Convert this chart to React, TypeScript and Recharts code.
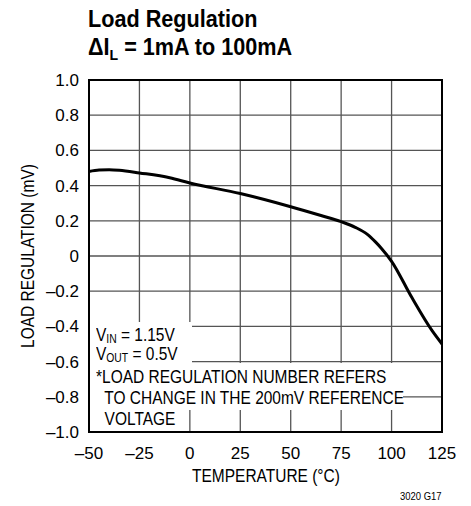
import React from 'react';
import { LineChart, Line, XAxis, YAxis, CartesianGrid, ReferenceArea } from 'recharts';

// temperature (°C) vs load regulation (mV)
const temps = [-50, -45, -40, -35, -25, -10, 0, 25, 50, 65, 75, 82, 88, 92, 95, 100, 110, 120, 125];
const loadReg = [0.48, 0.488, 0.49, 0.487, 0.472, 0.445, 0.415, 0.355, 0.28, 0.23, 0.195, 0.163, 0.123, 0.08, 0.043, -0.03, -0.235, -0.423, -0.5];

const xTicks = [-50, -25, 0, 25, 50, 75, 100, 125];
const yTicks = [-1, -0.8, -0.6, -0.4, -0.2, 0, 0.2, 0.4, 0.6, 0.8, 1];

const data = temps.map((t, i) => ({ t, v: loadReg[i] }));

const FONT = '"Liberation Sans", Arial, sans-serif';
// no condensed face installed, so squeeze the regular one
const narrow: React.CSSProperties = { transform: 'scaleX(0.86)', transformOrigin: 'left top', whiteSpace: 'pre' };

const fmtY = (v: number) => {
  if (v === 0) return '0';
  const s = Math.abs(v).toFixed(1);
  return v < 0 ? '\u2013' + s : s;
};
const fmtX = (v: number) => (v < 0 ? '\u2013' + Math.abs(v) : String(v));

const sub: React.CSSProperties = { fontSize: 12, position: 'relative', top: 2, lineHeight: '12px' };

const noteLines: React.ReactNode[] = [
  <>V<span style={sub}>IN</span> = 1.15V</>,
  <>V<span style={sub}>OUT</span> = 0.5V</>,
  '*LOAD REGULATION NUMBER REFERS',
  '  TO CHANGE IN THE 200mV REFERENCE',
  '  VOLTAGE',
];
const noteTops = [325, 344, 367, 388, 409];

const App: React.FC = () => {
  return (
    <div style={{ position: 'absolute', left: 0, top: 0, width: 471, height: 506, background: '#fff', fontFamily: FONT, color: '#000' }}>
      <div style={{ position: 'absolute', left: 88, top: 5, fontSize: 23, fontWeight: 'bold', lineHeight: '28px', whiteSpace: 'nowrap', transform: 'scaleX(0.94)', transformOrigin: 'left top' }}>
        Load Regulation
        <br />
        {'\u0394'}I<span style={{ fontSize: 15, position: 'relative', top: 5 }}>L</span> = 1mA to 100mA
      </div>

      <LineChart width={471} height={506} data={data} margin={{ top: 80, right: 29, bottom: 44, left: 0 }}>
        <CartesianGrid stroke="#555" strokeWidth={1.3} horizontalValues={yTicks} verticalValues={xTicks} />
        <XAxis
          type="number"
          dataKey="t"
          domain={[-50, 125]}
          ticks={xTicks}
          tickFormatter={fmtX}
          axisLine={false}
          tickLine={false}
          tickMargin={9}
          height={30}
          tick={{ fill: '#000', fontSize: 17, fontFamily: FONT }}
        />
        <YAxis
          type="number"
          domain={[-1, 1]}
          ticks={yTicks}
          tickFormatter={fmtY}
          axisLine={false}
          tickLine={false}
          tickMargin={4}
          width={89}
          tick={{ fill: '#000', fontSize: 17, fontFamily: FONT }}
        />
        <ReferenceArea x1={-50} x2={125} y1={-1} y2={1} fill="none" stroke="#000" strokeWidth={2} />
        <Line type="monotone" dataKey="v" stroke="#000" strokeWidth={3} dot={false} isAnimationActive={false} />
      </LineChart>

      {/* annotation block, white boxes hide the grid behind the text */}
      <div style={{ position: 'absolute', left: 90, top: 322, width: 102, height: 41, background: '#fff' }} />
      <div style={{ position: 'absolute', left: 90, top: 363, width: 313, height: 47, background: '#fff' }} />
      <div style={{ position: 'absolute', left: 90, top: 410, width: 95, height: 21, background: '#fff' }} />
      {noteLines.map((line, i) => (
        <div key={i} style={{ position: 'absolute', left: 96, top: noteTops[i], fontSize: 18, lineHeight: '20px', ...narrow }}>
          {line}
        </div>
      ))}

      <div
        style={{
          position: 'absolute',
          left: 28,
          top: 256,
          transform: 'translate(-50%, -50%) rotate(-90deg) scaleX(0.86)',
          fontSize: 18,
          whiteSpace: 'nowrap',
        }}
      >
        LOAD REGULATION (mV)
      </div>
      <div style={{ position: 'absolute', left: 266, top: 466, transform: 'translateX(-50%) scaleX(0.86)', fontSize: 18, whiteSpace: 'nowrap' }}>
        TEMPERATURE ({'\u00b0'}C)
      </div>
      <div style={{ position: 'absolute', left: 400, top: 490, fontSize: 11, whiteSpace: 'nowrap', ...narrow }}>3020 G17</div>
    </div>
  );
};

export default App;
